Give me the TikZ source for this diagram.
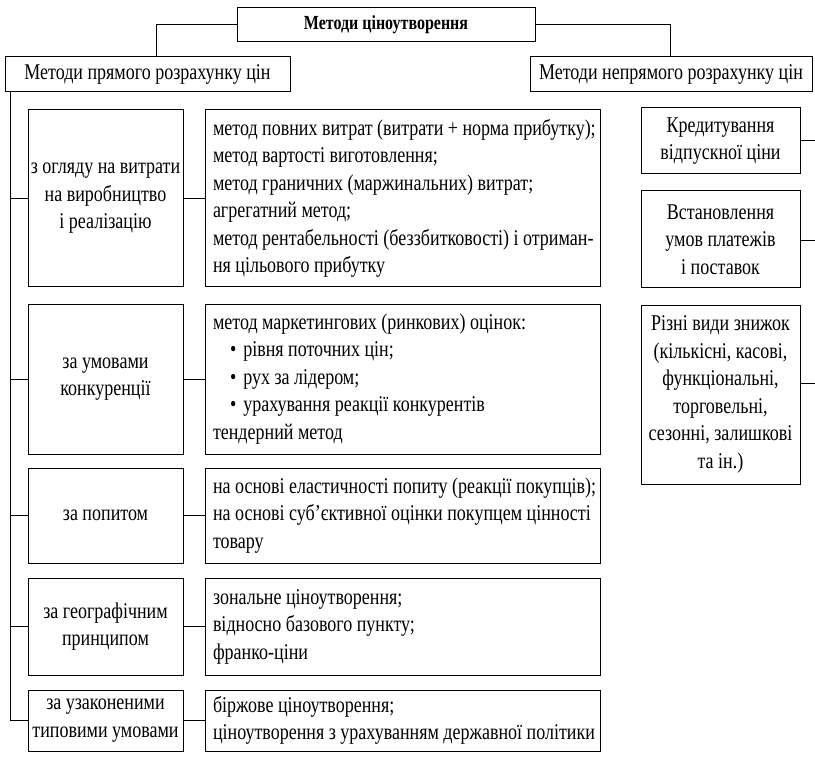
\documentclass[tikz,border=0pt]{standalone}
\usepackage{fontspec}
\setmainfont[FakeStretch=0.8]{Liberation Serif}
\newcommand{\natsp}{\spaceskip=0pt\xspaceskip=0pt\relax}
\begin{document}
\begin{tikzpicture}[x=1pt,y=-1pt,line width=1pt,
  every node/.style={inner sep=0pt},
  bodyfont/.style={font=\fontsize{22.5}{27.5}\selectfont},
  tbox/.style={draw, align=center, bodyfont},
  lbox/.style={draw, align=left, inner xsep=8pt, bodyfont}]
\fill[white] (0,0) rectangle (815,757);
\useasboundingbox (0,0) rectangle (815,757);

\node[draw, align=center, font=\bfseries\fontsize{20}{22}\selectfont, minimum width=298pt, minimum height=34pt] (title) at (386,25) {Методи ціноутворення};

\node[tbox, minimum width=285pt, minimum height=35pt] (lh) at (147.5,74.5) {Методи прямого розрахунку цін};
\node[tbox, minimum width=282pt, minimum height=35pt] (rh) at (671,74.5) {Методи непрямого розрахунку цін};

% left column
\node[tbox, minimum width=155pt, minimum height=177pt] (a1) at (105.5,198.5) {з огляду на витрати\\на виробництво\\і реалізацію};
\node[tbox, minimum width=155pt, minimum height=150pt] (a2) at (105.5,379) {за умовами\\конкуренції};
\node[tbox, minimum width=155pt, minimum height=95pt] (a3) at (105.5,515.5) {за попитом};
\node[tbox, minimum width=155pt, minimum height=97pt] (a4) at (105.5,626.5) {за географічним\\принципом};
\node[tbox, minimum width=155pt, minimum height=61pt] (a5) at (105.5,720.5) {за узаконеними\\типовими умовами};

% middle column
\node[lbox, text width=379pt, minimum height=177pt] (b1) at (402.5,198.5) {\natsp\mbox{метод повних витрат (витрати + норма прибутку);}\\\mbox{метод вартості виготовлення;}\\\mbox{метод граничних (маржинальних) витрат;}\\\mbox{агрегатний метод;}\\\mbox{метод рентабельності (беззбитковості) і отриман-}\\\mbox{ня цільового прибутку}};
\node[lbox, text width=379pt, minimum height=150pt] (b2) at (402.5,379) {\natsp\mbox{метод маркетингових (ринкових) оцінок:}\\\mbox{\hspace*{17pt}•\hspace{7pt}рівня поточних цін;}\\\mbox{\hspace*{17pt}•\hspace{7pt}рух за лідером;}\\\mbox{\hspace*{17pt}•\hspace{7pt}урахування реакції конкурентів}\\\mbox{тендерний метод}};
\node[lbox, text width=379pt, minimum height=95pt] (b3) at (402.5,515.5) {\natsp\mbox{на основі еластичності попиту (реакції покупців);}\\\mbox{на основі суб’єктивної оцінки покупцем цінності}\\\mbox{товару}};
\node[lbox, text width=379pt, minimum height=97pt] (b4) at (402.5,626.5) {\natsp\mbox{зональне ціноутворення;}\\\mbox{відносно базового пункту;}\\\mbox{франко-ціни}};
\node[lbox, text width=379pt, minimum height=61pt] (b5) at (402.5,720.5) {\natsp\mbox{біржове ціноутворення;}\\\mbox{ціноутворення з урахуванням державної політики}};

% right column
\node[tbox, minimum width=159pt, minimum height=66pt] (r1) at (720.5,141) {Кредитування\\відпускної ціни};
\node[tbox, minimum width=159pt, minimum height=97pt] (r2) at (720.5,239.5) {Встановлення\\умов платежів\\і поставок};
\node[tbox, minimum width=159pt, minimum height=179pt] (r3) at (720.5,394.5) {Різні види знижок\\(кількісні, касові,\\функціональні,\\торговельні,\\сезонні, залишкові\\та ін.)};

% connectors
\coordinate (tl) at (156,0);
\coordinate (tr) at (670,0);
\coordinate (sp) at (10,0);
\coordinate (e1) at (815,141);
\coordinate (e2) at (815,241);
\coordinate (e3) at (815,383);

\draw (title.west) -| (tl |- lh.north);
\draw (title.east) -| (tr |- rh.north);
\draw (sp |- lh.south) -- (sp |- a5);
\foreach \i in {1,...,5}{
  \draw (sp |- a\i) -- (a\i.west);
  \draw (a\i.east) -- (b\i.west);
}
\draw (r1.east) -- (e1);
\draw (r2.east |- e2) -- (e2);
\draw (r3.east |- e3) -- (e3);
\end{tikzpicture}
\end{document}
